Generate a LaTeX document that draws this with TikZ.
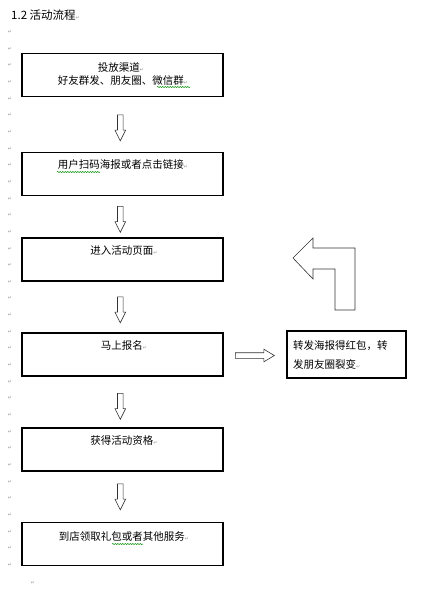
\documentclass[tikz,border=0pt]{standalone}
\usepackage{fontspec}
\setmainfont{Noto Sans CJK SC}
\newfontfamily\dejavu{DejaVu Sans}
\usetikzlibrary{shapes.arrows,decorations.pathmorphing}
\newcommand{\retmark}{{\fontsize{5pt}{5pt}\selectfont\dejavu\color{gray!80}↵}}
\begin{document}
\begin{tikzpicture}[x=1pt,y=-1pt,
  box/.style={draw=black,line width=1.1pt,minimum width=201pt,minimum height=43pt,inner sep=0pt},
  sidebox/.style={draw=black,line width=1.1pt,minimum width=119pt,minimum height=47pt,inner sep=0pt},
  txt/.style={inner sep=0pt,font=\fontsize{10.5pt}{12pt}\selectfont},
  downarrow/.style={single arrow,draw=black!80,line width=0.6pt,fill=white,rotate=-90,
    minimum height=26pt,minimum width=10pt,inner sep=2.5pt,single arrow head extend=2.5pt,
    single arrow tip angle=53},
  rightarrow/.style={single arrow,draw=black!80,line width=0.6pt,fill=white,
    minimum height=39pt,minimum width=12pt,inner sep=2.5pt,single arrow head extend=3.5pt,
    single arrow tip angle=62},
  spell/.style={draw=green!55!black,line width=0.5pt,decorate,
    decoration={snake,amplitude=0.6pt,segment length=2.5pt}},
  marg/.style={inner sep=0pt,text=gray!80,font=\fontsize{5pt}{5pt}\selectfont\dejavu}
]
\useasboundingbox (0,0) rectangle (428,590);
\fill[white] (0,0) rectangle (428,590);

% margin paragraph marks
\foreach \k in {0,...,32}{
  \node[marg] (m\k) at (10,32+16.65*\k) {↵};
}
\node[marg] (mlast) at (33,583) {↵};

% title
\node[txt,anchor=west,font=\fontsize{11.5pt}{13pt}\selectfont] (title) at (11,15) {1.2 活动流程\retmark};

% boxes
\node[box] (b1) at (122.5,75) {};
\node[txt] (t1a) at (121,67) {投放渠道\retmark};
\node[txt] (t1b) at (123,81) {好友群发、朋友圈、微信群\retmark};

\node[box] (b2) at (122.5,174) {};
\node[txt] (t2) at (123,165) {用户扫码海报或者点击链接\retmark};

\node[box] (b3) at (122.5,259.5) {};
\node[txt] (t3) at (124,251) {进入活动页面\retmark};

\node[box] (b4) at (122.5,354.5) {};
\node[txt] (t4) at (124,345) {马上报名\retmark};

\node[box] (b5) at (122.5,449.5) {};
\node[txt] (t5) at (124,441) {获得活动资格\retmark};

\node[box] (b6) at (122.5,544) {};
\node[txt] (t6) at (124,536) {到店领取礼包或者其他服务\retmark};

% spelling underlines
\draw[spell] (157,87) -- (190,87);
\draw[spell] (57,172) -- (100,172);
\draw[spell] (112,544) -- (143,544);

% down arrows
\node[downarrow] (a1) at (120.3,125) {};
\node[downarrow] (a2) at (120.3,216.5) {};
\node[downarrow] (a3) at (120.3,307) {};
\node[downarrow] (a4) at (120.3,403.5) {};
\node[downarrow] (a5) at (120.3,494) {};

% right arrow
\node[rightarrow] (ar) at (252.5,355.5) {};

% side box
\node[sidebox] (sb) at (346.5,354.5) {};
\node[txt,anchor=west] (s1) at (293,346) {转发海报得红包，转};
\node[txt,anchor=west] (s2) at (293,364) {发朋友圈裂变\retmark};

% bent arrow
\draw[draw=black!80,line width=0.6pt,fill=white]
  (293,258) -- (313,238) -- (313,248) -- (355,248) -- (355,310) -- (335,310)
  -- (335,269) -- (313,269) -- (313,279) -- cycle;
\end{tikzpicture}
\end{document}
